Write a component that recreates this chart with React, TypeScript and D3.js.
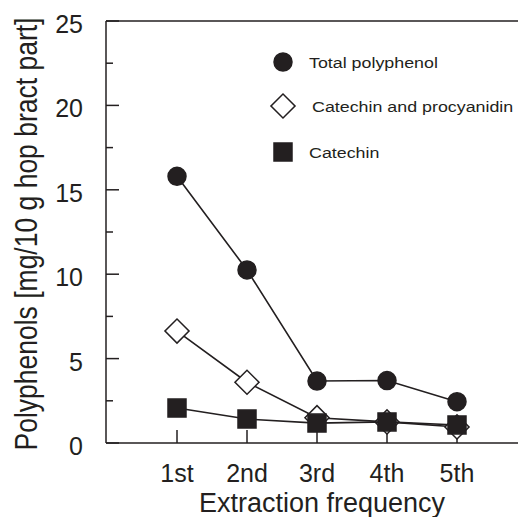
// @ts-nocheck
import * as d3 from 'd3';

const categories = ['1st', '2nd', '3rd', '4th', '5th'];
const totalPolyphenol = [15.8, 10.25, 3.67, 3.7, 2.45];
const catechinProcyanidin = [6.63, 3.6, 1.5, 1.25, 0.95];
const catechin = [2.07, 1.42, 1.18, 1.25, 1.07];
const yTicks = [0, 5, 10, 15, 20, 25];
const yMinorTicks = [2.5, 7.5, 12.5, 17.5, 22.5];

const ink = '#231f20';
const font = "'Liberation Sans', Arial, Helvetica, sans-serif";

function App() {
  const width = 518;
  const height = 517;
  const left = 106;
  const top = 21;
  const bottom = 443;

  const x = d3.scalePoint<string>().domain(categories).range([177, 457]);
  const y = d3.scaleLinear().domain([0, 25]).range([bottom, top]);

  const line = d3.line<number>((_, i) => x(categories[i])!, d => y(d));

  const circle = d3.symbol(d3.symbolCircle, Math.PI * 81)();
  const square = d3.symbol(d3.symbolSquare, 324)();
  const diamond = d3.symbol(d3.symbolSquare, 290)();

  const series = [
    { name: 'Total polyphenol', values: totalPolyphenol, path: circle, rot: 0, fill: ink },
    { name: 'Catechin and procyanidin', values: catechinProcyanidin, path: diamond, rot: 45, fill: '#fff' },
    { name: 'Catechin', values: catechin, path: square, rot: 0, fill: ink },
  ];
  const legendY = [62, 106, 152];
  const legendTx = [309, 312, 309];

  return (
    <svg width={width} height={height} style={{ position: 'absolute', left: 0, top: 0, background: '#fff' }} fontFamily={font}>
      {/* frame */}
      <line x1={left} x2={left} y1={top} y2={bottom} stroke={ink} strokeWidth={1.5} />
      <line x1={left} x2={width} y1={top} y2={top} stroke={ink} strokeWidth={1.5} />
      <line x1={left} x2={width} y1={bottom} y2={bottom} stroke={ink} strokeWidth={1.5} />

      {/* y ticks */}
      {yTicks.map(t => (
        <g key={t}>
          <line x1={left} x2={left + 13} y1={y(t)} y2={y(t)} stroke={ink} strokeWidth={1.5} />
          <text x={83} y={y(t) + 12} fontSize={25} textAnchor="end" fill={ink}>{t}</text>
        </g>
      ))}
      {yMinorTicks.map(t => (
        <line key={t} x1={left} x2={left + 7} y1={y(t)} y2={y(t)} stroke={ink} strokeWidth={1.5} />
      ))}

      {/* x ticks */}
      {categories.map(c => (
        <g key={c}>
          <line x1={x(c)} x2={x(c)} y1={bottom} y2={bottom - 13} stroke={ink} strokeWidth={1.5} />
          <text x={x(c)} y={482} fontSize={25} textAnchor="middle" fill={ink}>{c}</text>
        </g>
      ))}

      <text x={322} y={512} fontSize={27} textAnchor="middle" fill={ink}>Extraction frequency</text>
      <text transform="translate(37,234) scale(1.15,1) rotate(-90)" fontSize={26.5} textAnchor="middle" fill={ink}>
        Polyphenols [mg/10 g hop bract part]
      </text>

      {/* series */}
      {series.map(s => (
        <g key={s.name}>
          <path d={line(s.values) || ''} fill="none" stroke={ink} strokeWidth={1.6} />
          {s.values.map((v, i) => (
            <path key={i} d={s.path!}
              transform={`translate(${x(categories[i])},${y(v)}) rotate(${s.rot})`}
              fill={s.fill} stroke={ink} strokeWidth={1.5} />
          ))}
        </g>
      ))}

      {/* legend */}
      {series.map((s, i) => (
        <g key={s.name}>
          <path d={s.path!} transform={`translate(283,${legendY[i]}) rotate(${s.rot})`}
            fill={s.fill} stroke={ink} strokeWidth={1.5} />
          <text transform={`translate(${legendTx[i]},${legendY[i] + 6}) scale(1.19,1)`} fontSize={15} fill={ink}>
            {s.name}
          </text>
        </g>
      ))}
    </svg>
  );
}

export default App;
